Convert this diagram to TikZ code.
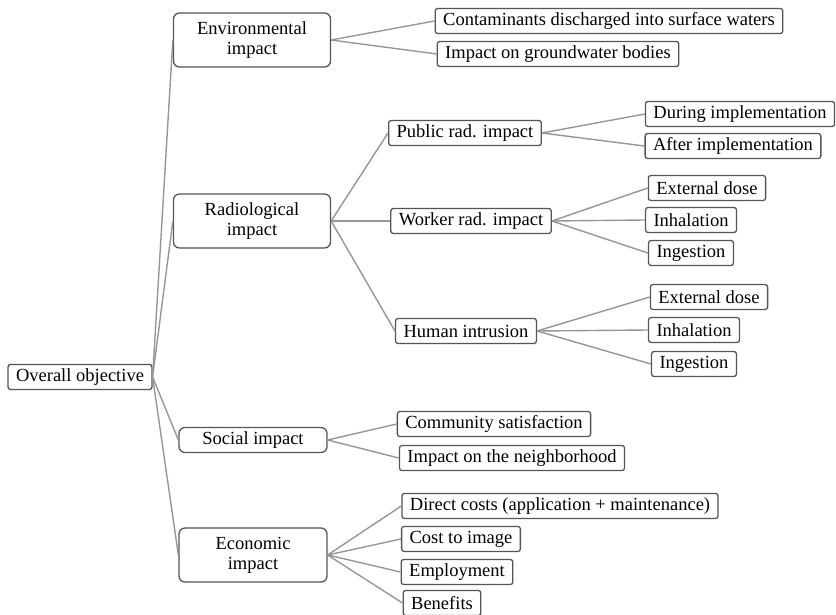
\documentclass[tikz,border=0pt]{standalone}
\usepackage{fontspec}
\setmainfont{Liberation Serif}
\usepackage{tikz}
\definecolor{boxline}{RGB}{85,85,85}
\definecolor{linkline}{RGB}{150,150,150}
\tikzset{
  leaf/.style={draw=boxline,line width=1.3bp,rounded corners=2.5bp,fill=white,
    inner xsep=8bp,inner ysep=2bp,minimum height=25bp,
    font=\fontsize{18.5bp}{20bp}\selectfont},
  branch/.style={leaf,rounded corners=6bp,minimum width=157bp,minimum height=54bp,
    align=center,font=\fontsize{18.5bp}{20bp}\selectfont},
  link/.style={linkline,line width=1.4bp}
}

\begin{document}
\begin{tikzpicture}[x=1bp,y=-1bp]
  \useasboundingbox (0,0) rectangle (836,615);
  % root and first level
  \node[leaf] (ov) at (80,377) {Overall objective};
  \node[branch] (env) at (252,40) {Environmental\\impact};
  \node[branch] (rad) at (252,221) {Radiological\\impact};
  \node[branch,minimum width=148bp,minimum height=25bp] (soc) at (253,440) {Social impact};
  \node[branch,minimum width=148bp] (eco) at (253,555) {Economic\\impact};
  % environmental
  \node[leaf] (env1) at (609,21) {Contaminants discharged into surface waters};
  \node[leaf] (env2) at (558,54) {Impact on groundwater bodies};
  % radiological
  \node[leaf] (pub) at (465,133) {Public rad. impact};
  \node[leaf] (wrk) at (471,221) {Worker rad. impact};
  \node[leaf] (hum) at (466,331) {Human intrusion};
  \node[leaf] (pub1) at (740,114) {During implementation};
  \node[leaf] (pub2) at (733,146) {After implementation};
  \node[leaf] (wrk1) at (707,188) {External dose};
  \node[leaf] (wrk2) at (691,220) {Inhalation};
  \node[leaf] (wrk3) at (691,253) {Ingestion};
  \node[leaf] (hum1) at (709,297) {External dose};
  \node[leaf] (hum2) at (694,330) {Inhalation};
  \node[leaf] (hum3) at (694,364) {Ingestion};
  % social
  \node[leaf] (soc1) at (494,424) {Community satisfaction};
  \node[leaf] (soc2) at (512,458) {Impact on the neighborhood};
  % economic
  \node[leaf] (eco1) at (560,506) {Direct costs (application + maintenance)};
  \node[leaf] (eco2) at (461,539) {Cost to image};
  \node[leaf] (eco3) at (457,572) {Employment};
  \node[leaf] (eco4) at (442,603) {Benefits};
  % connectors
  \begin{scope}[on background layer/.try]
  \foreach \a/\b in {ov/env,ov/rad,ov/soc,ov/eco,env/env1,env/env2,rad/pub,rad/wrk,rad/hum,
      pub/pub1,pub/pub2,wrk/wrk1,wrk/wrk2,wrk/wrk3,hum/hum1,hum/hum2,hum/hum3,
      soc/soc1,soc/soc2,eco/eco1,eco/eco2,eco/eco3,eco/eco4}
    \draw[link] (\a.east) -- (\b.west);
  \end{scope}
\end{tikzpicture}
\end{document}
